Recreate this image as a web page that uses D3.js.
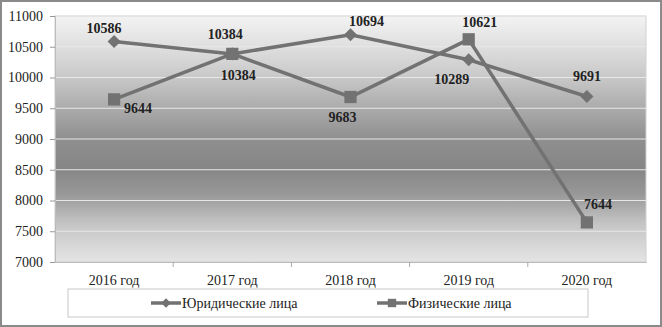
<!DOCTYPE html>
<html>
<head>
<meta charset="utf-8">
<script src="https://cdn.jsdelivr.net/npm/d3@7"></script>
<style>
body { margin: 0; background: #fff; }
svg { display: block; }
svg text { font-family: "Liberation Serif", "Times New Roman", "DejaVu Serif", serif; }
</style>
</head>
<body>
<div class="chart"></div>
<script>
var years = ["2016 год", "2017 год", "2018 год", "2019 год", "2020 год"];
var jurValues = [10586, 10384, 10694, 10289, 9691];
var physValues = [9644, 10384, 9683, 10621, 7644];
var yTicks = [7000, 7500, 8000, 8500, 9000, 9500, 10000, 10500, 11000];
var seriesNames = ["Юридические лица", "Физические лица"];

// label offsets relative to marker (dx, dy of baseline)
var jurLabelPos = [[-10, -8], [-7, -15], [16, -9], [-17, 24], [0, -16]];
var physLabelPos = [[24, 14], [6, 26], [-8, 25], [11, -12], [11, -13]];

var width = 662, height = 327;
var margin = {left: 55, right: 16, top: 16, bottom: 65};

var svg = d3.select(".chart").append("svg")
    .attr("width", width)
    .attr("height", height);

var defs = svg.append("defs");
var grad = defs.append("linearGradient")
    .attr("id", "bg").attr("x1", 0).attr("y1", 0).attr("x2", 0).attr("y2", 1);
[[0, "#f3f3f3"], [0.13, "#dedede"], [0.25, "#c8c8c8"], [0.37, "#acacac"],
 [0.5, "#8f8f8f"], [0.62, "#868686"], [0.72, "#979797"], [0.85, "#c6c6c6"], [1, "#e4e4e4"]]
    .forEach(function(s){ grad.append("stop").attr("offset", s[0]).attr("stop-color", s[1]); });

// outer frame
svg.append("rect")
    .attr("x", 1).attr("y", 1)
    .attr("width", width - 2).attr("height", height - 2)
    .attr("fill", "#fff").attr("stroke", "#8a8a8a").attr("stroke-width", 2);

var x = d3.scaleBand()
    .domain(years)
    .range([margin.left, width - margin.right]);

var y = d3.scaleLinear()
    .domain([7000, 11000])
    .range([height - margin.bottom, margin.top]);

svg.append("rect")
    .attr("x", x.range()[0]).attr("y", y(11000))
    .attr("width", x.range()[1] - x.range()[0])
    .attr("height", y(7000) - y(11000))
    .attr("fill", "url(#bg)")
    .attr("stroke", "#d0d0d0");

// grid
svg.append("g").selectAll("line")
    .data(yTicks.slice(1))
    .enter().append("line")
    .attr("x1", x.range()[0]).attr("x2", x.range()[1])
    .attr("y1", function(d){ return y(d); })
    .attr("y2", function(d){ return y(d); })
    .attr("stroke", "#e8e8e8").attr("stroke-width", 1.2);

var yAxis = svg.append("g")
    .attr("transform", "translate(" + margin.left + ",0)")
    .call(d3.axisLeft(y).tickValues(yTicks).tickSize(5).tickPadding(7).tickFormat(d3.format("d")));
yAxis.attr("font-family", null);
yAxis.select(".domain").attr("stroke", "#bbb");
yAxis.selectAll(".tick line").attr("stroke", "#999");
yAxis.selectAll("text").attr("font-size", 14).attr("fill", "#222");

var xAxis = svg.append("g")
    .attr("transform", "translate(0," + y(7000) + ")")
    .call(d3.axisBottom(x).tickSize(0).tickPadding(13));
xAxis.attr("font-family", null);
xAxis.select(".domain").attr("stroke", "#bbb");
xAxis.selectAll("text").attr("font-size", 14).attr("fill", "#222");
// ticks between categories
svg.append("g").selectAll("line")
    .data(years.slice(1))
    .enter().append("line")
    .attr("x1", function(d){ return x(d); })
    .attr("x2", function(d){ return x(d); })
    .attr("y1", y(7000)).attr("y2", y(7000) + 5)
    .attr("stroke", "#aaa");

var lineColor = "#727272";
var line = d3.line()
    .x(function(d, i){ return x(years[i]) + x.bandwidth() / 2; })
    .y(function(d){ return y(d); });

function drawSeries(values, isDiamond, labelPos) {
    var g = svg.append("g");
    g.append("path")
        .datum(values)
        .attr("d", line)
        .attr("fill", "none")
        .attr("stroke", lineColor)
        .attr("stroke-width", 3.5);
    g.selectAll(".mk")
        .data(values)
        .enter().append("path")
        .attr("d", d3.symbol().type(d3.symbolSquare).size(isDiamond ? 85 : 150))
        .attr("transform", function(d, i){
            return "translate(" + (x(years[i]) + x.bandwidth() / 2) + "," + y(d) + ")" +
                (isDiamond ? " rotate(45)" : "");
        })
        .attr("fill", lineColor);
    g.selectAll(".lbl")
        .data(values)
        .enter().append("text")
        .attr("x", function(d, i){ return x(years[i]) + x.bandwidth() / 2 + labelPos[i][0]; })
        .attr("y", function(d, i){ return y(d) + labelPos[i][1]; })
        .attr("text-anchor", "middle")
        .attr("font-weight", "bold")
        .attr("font-size", 14)
        .attr("fill", "#222")
        .text(function(d){ return d; });
}

drawSeries(jurValues, true, jurLabelPos);
drawSeries(physValues, false, physLabelPos);

// legend
var legend = svg.append("g");
legend.append("rect")
    .attr("x", 68).attr("y", 289).attr("width", 520).attr("height", 28)
    .attr("fill", "#fff").attr("stroke", "#c8c8c8");
var legendItems = [
    {name: seriesNames[0], diamond: true, x: 151},
    {name: seriesNames[1], diamond: false, x: 377}
];
legendItems.forEach(function(it){
    legend.append("line")
        .attr("x1", it.x).attr("x2", it.x + 30)
        .attr("y1", 303).attr("y2", 303)
        .attr("stroke", lineColor).attr("stroke-width", 3.5);
    legend.append("path")
        .attr("d", d3.symbol().type(d3.symbolSquare).size(it.diamond ? 45 : 70))
        .attr("transform", "translate(" + (it.x + 15) + ",303)" + (it.diamond ? " rotate(45)" : ""))
        .attr("fill", lineColor);
    legend.append("text")
        .attr("x", it.x + 31).attr("y", 308)
        .attr("font-size", 14).attr("fill", "#222")
        .text(it.name);
});
</script>
</body>
</html>
